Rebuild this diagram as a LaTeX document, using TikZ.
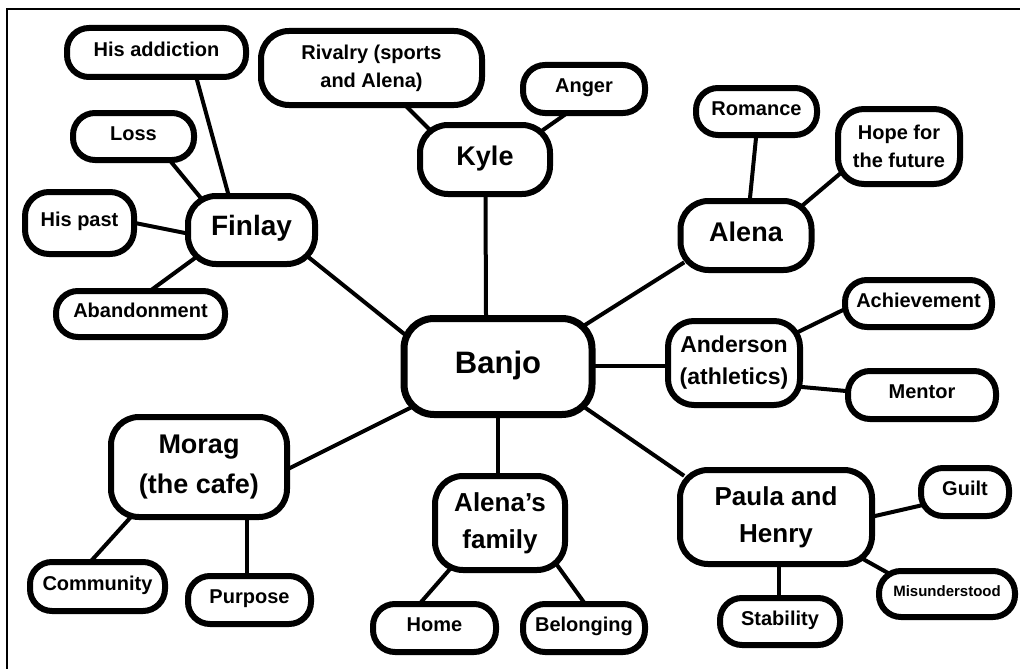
\documentclass[tikz,border=0pt]{standalone}
\usepackage{fontspec}
\setmainfont{Liberation Sans}
\usetikzlibrary{backgrounds}
\tikzset{
  leaf/.style={draw, fill=white, line width=6pt, rounded corners=22pt, inner sep=0pt,
    align=center, font=\bfseries\fontsize{20}{28}\selectfont},
  one/.style={text height=15pt, text depth=7.5pt},
  hub/.style={leaf, rounded corners=28pt, font=\bfseries\fontsize{27}{38}\selectfont},
  onehub/.style={text height=20pt, text depth=8.5pt},
  link/.style={line width=4pt, shorten <=-5pt, shorten >=-5pt},
  frame/.style={line width=2pt}
}
\begin{document}
\begin{tikzpicture}[x=1pt, y=-1pt]
\useasboundingbox (0,0) rectangle (1020,669);
\draw[frame] (6.5,669) -- (6.5,9) -- (1020,9);

% hubs
\node[hub, line width=7pt, rounded corners=30pt, minimum width=188pt, minimum height=96pt,
  font=\bfseries\fontsize{31}{38}\selectfont, text height=23pt, text depth=10pt] (banjo) at (498,366.5) {Banjo};
\node[hub, onehub, minimum width=130pt, minimum height=69pt] (kyle) at (485,159.5) {Kyle};
\node[hub, onehub, minimum width=127pt, minimum height=68pt,
  font=\bfseries\fontsize{28}{38}\selectfont] (fin) at (251.5,230) {Finlay};
\node[hub, onehub, minimum width=131pt, minimum height=69pt] (alena) at (746,235.5) {Alena};
\node[hub, minimum width=132pt, minimum height=84pt, rounded corners=26pt,
  font=\bfseries\fontsize{23}{32}\selectfont] (and) at (734,363) {Anderson\\(athletics)};
\node[hub, minimum width=192pt, minimum height=94pt,
  font=\bfseries\fontsize{26}{37}\selectfont] (paula) at (776,517) {Paula and\\Henry};
\node[hub, minimum width=130pt, minimum height=94pt,
  font=\bfseries\fontsize{26}{37}\selectfont] (afam) at (500,523) {Alena’s\\family};
\node[hub, minimum width=176pt, minimum height=100pt,
  font=\bfseries\fontsize{27}{40}\selectfont] (morag) at (199,467) {Morag\\(the cafe)};

% leaves
\node[leaf, one, minimum width=179pt, minimum height=49pt] (add) at (156.5,52.5) {His addiction};
\node[leaf, one, minimum width=121pt, minimum height=47pt] (loss) at (133.5,136.5) {Loss};
\node[leaf, one, minimum width=109pt, minimum height=62pt, rounded corners=24pt] (past) at (79.5,223) {His past};
\node[leaf, one, minimum width=169pt, minimum height=46pt] (aban) at (140.5,314) {Abandonment};
\node[leaf, minimum width=221pt, minimum height=74pt, rounded corners=28pt] (riv) at (371.5,68) {Rivalry (sports\\and Alena)};
\node[leaf, one, minimum width=122pt, minimum height=48pt] (anger) at (584,89) {Anger};
\node[leaf, one, minimum width=121pt, minimum height=47pt] (rom) at (756.5,111.5) {Romance};
\node[leaf, minimum width=122pt, minimum height=75pt, rounded corners=26pt] (hope) at (899,146.5) {Hope for\\the future};
\node[leaf, one, minimum width=147pt, minimum height=47pt] (ach) at (918.5,303.5) {Achievement};
\node[leaf, one, minimum width=148pt, minimum height=48pt] (ment) at (922,395) {Mentor};
\node[leaf, one, minimum width=88pt, minimum height=48pt] (guilt) at (965,492) {Guilt};
\node[leaf, minimum width=136pt, minimum height=46pt, text height=11pt, text depth=5.5pt,
  font=\bfseries\fontsize{15}{18}\selectfont] (mis) at (947,594) {Misunderstood};
\node[leaf, one, minimum width=120pt, minimum height=47pt] (stab) at (780,621.5) {Stability};
\node[leaf, one, minimum width=123pt, minimum height=48pt] (home) at (434.5,628) {Home};
\node[leaf, one, minimum width=122pt, minimum height=48pt] (bel) at (584,628) {Belonging};
\node[leaf, one, minimum width=135pt, minimum height=49pt] (comm) at (97.5,586.5) {Community};
\node[leaf, one, minimum width=123pt, minimum height=48pt] (purp) at (249.5,600) {Purpose};

\begin{scope}[on background layer]
\draw[link] ([shift={(40.5,27.5)}]add.center) -- ([shift={(-23.5,-37)}]fin.center);
\draw[link] ([shift={(38.5,26.5)}]loss.center) -- ([shift={(-51.5,-33)}]fin.center);
\draw[link] ([shift={(60.5,1)}]past.center) -- ([shift={(-66.5,3)}]fin.center);
\draw[link] ([shift={(13.5,-26)}]aban.center) -- ([shift={(-56.5,28)}]fin.center);
\draw[link] ([shift={(60.5,30)}]fin.center) -- ([shift={(-95,-33.5)}]banjo.center);
\draw[link] ([shift={(36.5,40)}]riv.center) -- ([shift={(-55,-29.5)}]kyle.center);
\draw[link] ([shift={(-21,27)}]anger.center) -- ([shift={(58,-29.5)}]kyle.center);
\draw[link] ([shift={(0.5,37.5)}]kyle.center) -- ([shift={(-12,-51.5)}]banjo.center);
\draw[link] ([shift={(-66,29.5)}]alena.center) -- ([shift={(87,-41.5)}]banjo.center);
\draw[link] ([shift={(-0.5,26.5)}]rom.center) -- ([shift={(4,-37.5)}]alena.center);
\draw[link] ([shift={(-57,25.5)}]hope.center) -- ([shift={(57,-30.5)}]alena.center);
\draw[link] ([shift={(-77.5,7.5)}]ach.center) -- ([shift={(64,-31)}]and.center);
\draw[link] ([shift={(97,-0.5)}]banjo.center) -- ([shift={(-69,3)}]and.center);
\draw[link] ([shift={(68,24)}]and.center) -- ([shift={(-76,-4)}]ment.center);
\draw[link] ([shift={(89,42.5)}]banjo.center) -- ([shift={(-96,-44)}]paula.center);
\draw[link] ([shift={(99,-1)}]paula.center) -- ([shift={(-42,13)}]guilt.center);
\draw[link] ([shift={(87,42)}]paula.center) -- ([shift={(-59,-21)}]mis.center);
\draw[link] ([shift={(3,50)}]paula.center) -- ([shift={(-1,-26.5)}]stab.center);
\draw[link] ([shift={(0,51.5)}]banjo.center) -- ([shift={(-2,-50)}]afam.center);
\draw[link] ([shift={(-50,46)}]afam.center) -- ([shift={(-12.5,-27)}]home.center);
\draw[link] ([shift={(57,42)}]afam.center) -- ([shift={(-1,-27)}]bel.center);
\draw[link] ([shift={(-90,42.5)}]banjo.center) -- ([shift={(93,0)}]morag.center);
\draw[link] ([shift={(-69,51)}]morag.center) -- ([shift={(-5.5,-26.5)}]comm.center);
\draw[link] ([shift={(48,53)}]morag.center) -- ([shift={(-2.5,-27)}]purp.center);
\end{scope}
\end{tikzpicture}
\end{document}
